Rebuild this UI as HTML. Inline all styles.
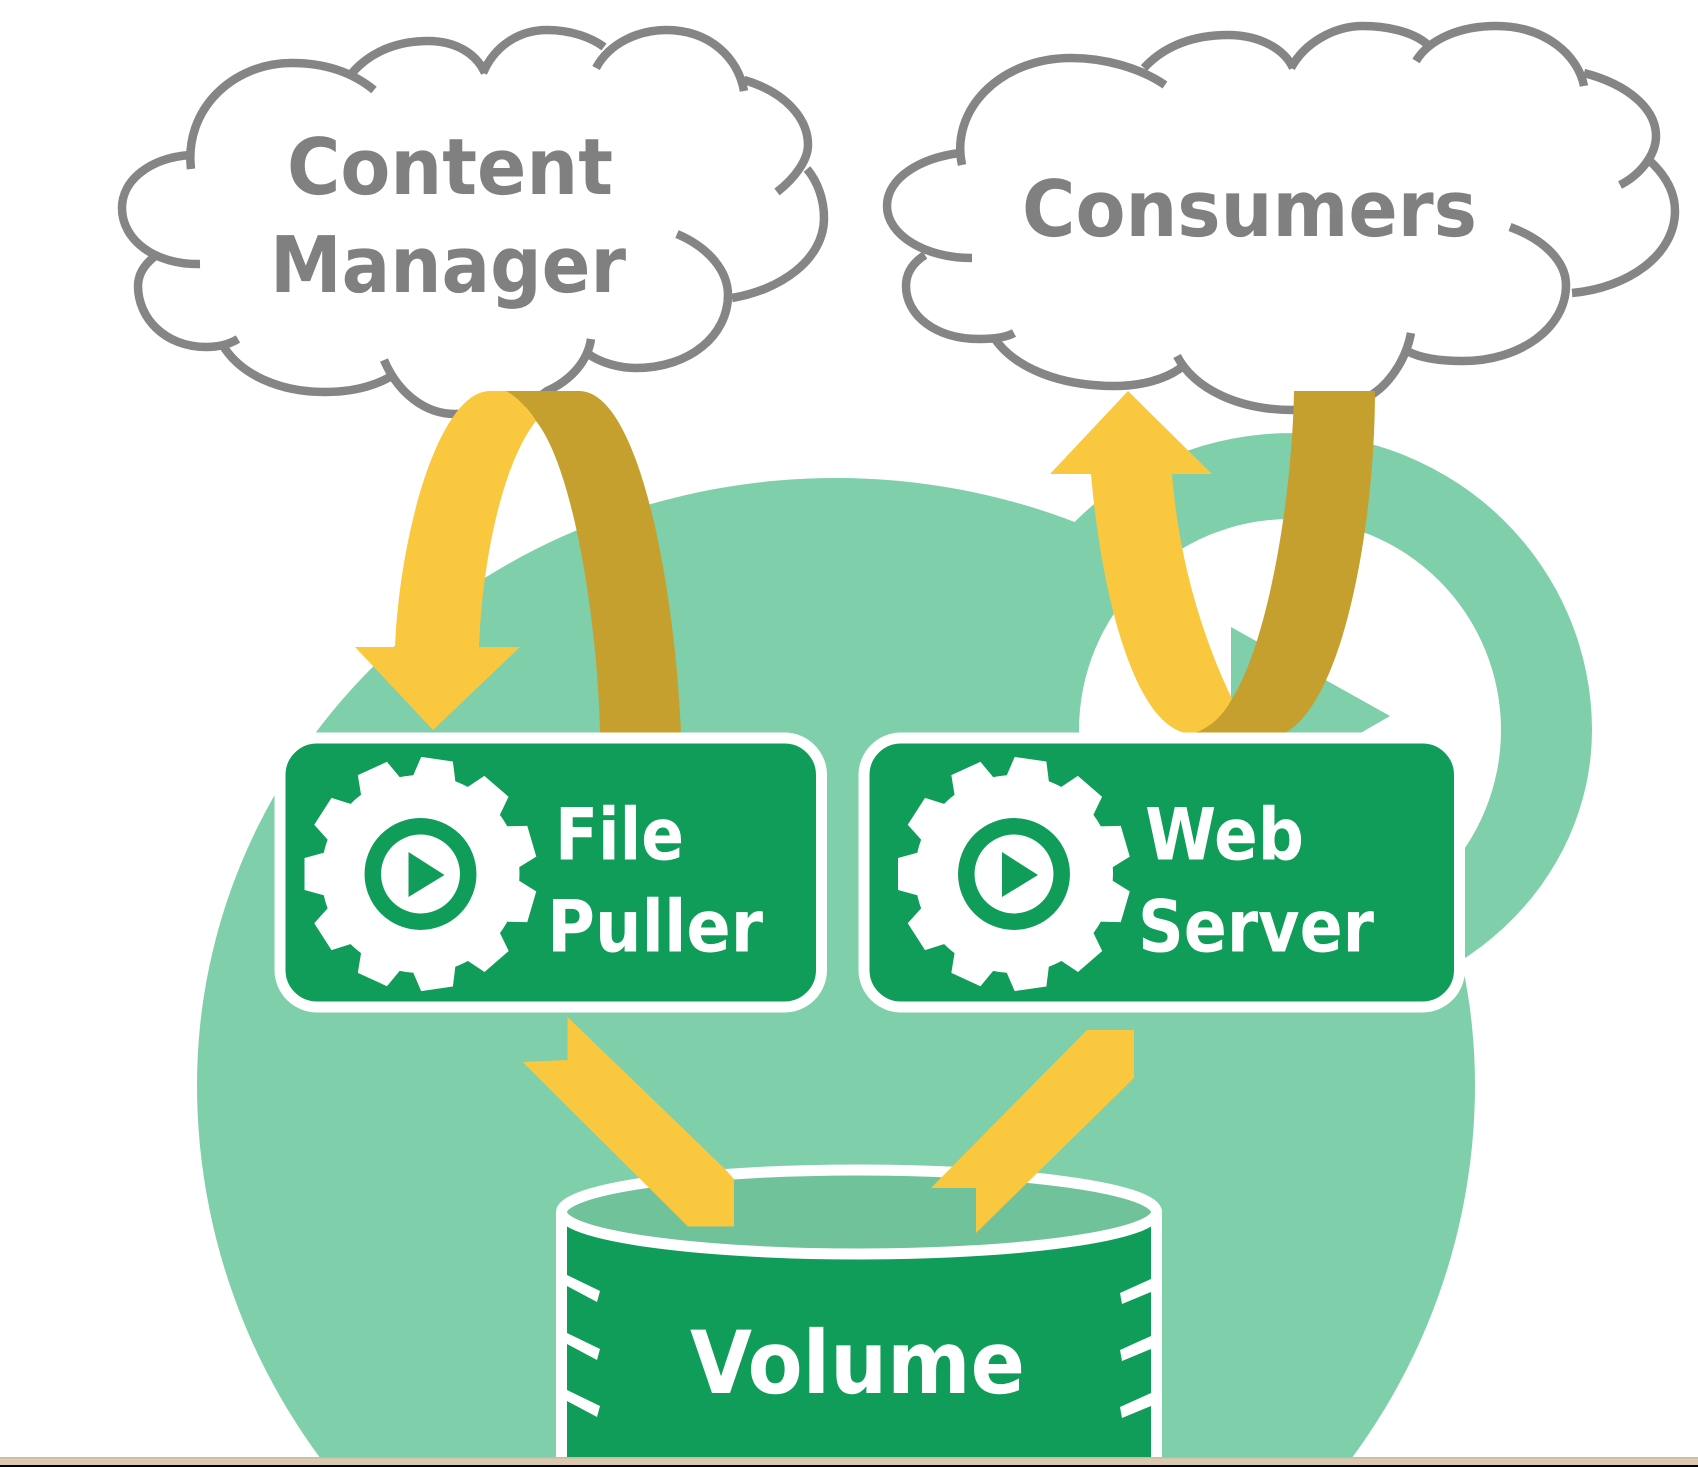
<!DOCTYPE html>
<html><head><meta charset="utf-8"><style>
html,body{margin:0;padding:0;background:#fff;width:1698px;height:1467px;overflow:hidden}
svg{display:block}
text{font-family:"DejaVu Sans","Liberation Sans",sans-serif;font-weight:bold;text-rendering:geometricPrecision}
</style></head><body>
<svg width="1698" height="1467" viewBox="0 0 1698 1467" xmlns="http://www.w3.org/2000/svg">
<defs>
<polygon id="t" points="-22,-94 -16,-116 16,-116 22,-94"/>
<g id="gear">
<circle r="99" fill="#fff"/>
<g fill="#fff">
<use href="#t" transform="rotate(270)"/><use href="#t" transform="rotate(302.7)"/><use href="#t" transform="rotate(335.5)"/><use href="#t" transform="rotate(8.2)"/><use href="#t" transform="rotate(40.9)"/><use href="#t" transform="rotate(73.6)"/><use href="#t" transform="rotate(106.4)"/><use href="#t" transform="rotate(139)"/><use href="#t" transform="rotate(171.8)"/><use href="#t" transform="rotate(204.5)"/><use href="#t" transform="rotate(237.3)"/>
</g>
<circle r="47.7" fill="#fff" stroke="#109d59" stroke-width="16.5"/>
<polygon points="-12,-22 -12,23 24,1" fill="#109d59"/>
</g>
</defs>

<rect width="1698" height="1467" fill="#fff"/>

<!-- ring -->
<path d="M988,730 A302,297 0 0 1 1592,730 A302,280 0 0 1 988,730Z" fill="#7fcfaa"/>
<!-- large circle -->
<path d="M197,1085 A639,607 0 0 1 1475,1085 A639,632 0 0 1 197,1085Z" fill="#7fcfaa"/>
<!-- hole -->
<circle cx="1290" cy="730" r="211" fill="#fff"/>
<!-- ring arrowhead -->
<polygon points="1231,627 1390,716 1231,808" fill="#7fcfaa"/>

<!-- clouds -->
<g fill="none" stroke="#858585" stroke-width="8.5">
<path d="M191,169 C184,110 232,63 292,63 C325,63 352,72 374,90"/>
<path d="M352,73 C372,50 400,41 428,41 C455,41 476,53 485,73"/>
<path d="M483,73 C495,45 520,30 547,30 C572,30 592,38 604,47"/>
<path d="M596,68 C610,42 640,30 666,30 C710,30 738,58 744,91"/>
<path d="M744,80 C785,92 808,118 808,145 C808,160 795,178 777,192"/>
<path d="M807,169 C818,182 824,200 824,218 C824,260 780,290 732,298"/>
<path d="M677,234 C710,248 728,272 728,295 C728,335 690,368 636,368 C620,368 600,363 587,353"/>
<path d="M591,339 C588,360 572,380 547,391 C530,405 490,414 455,414 C425,414 398,393 384,360"/>
<path d="M390,377 C372,387 350,392 325,392 C280,392 240,375 222,344"/>
<path d="M238,339 C228,345 218,347 206,347 C165,347 138,318 138,286 C138,275 144,265 154,257"/>
<path d="M200,264 C155,265 122,240 122,208 C122,180 150,158 190,155"/>

<path d="M962,165 C950,110 1000,58 1071,58 C1105,58 1140,68 1165,85"/>
<path d="M1144,68 C1165,45 1195,35 1228,35 C1258,35 1284,48 1293,68"/>
<path d="M1291,68 C1305,42 1335,26 1363,26 C1390,26 1415,33 1428,45"/>
<path d="M1416,61 C1430,38 1462,26 1496,26 C1545,26 1578,55 1584,86"/>
<path d="M1584,73 C1630,85 1656,110 1656,136 C1656,155 1640,175 1620,185"/>
<path d="M1650,161 C1665,175 1675,192 1675,211 C1675,255 1628,288 1572,293"/>
<path d="M1510,227 C1545,240 1566,262 1566,285 C1566,328 1520,361 1463,361 C1440,361 1420,358 1407,351"/>
<path d="M1411,333 C1405,365 1385,385 1377,391 C1360,405 1325,410 1293,410 C1240,410 1195,390 1177,356"/>
<path d="M1182,367 C1165,380 1140,386 1114,386 C1060,386 1015,368 995,339"/>
<path d="M1014,333 C1005,338 992,339 979,339 C935,339 906,315 906,286 C906,272 914,262 925,255"/>
<path d="M972,258 C925,258 887,235 887,206 C887,178 920,158 960,153"/>
</g>
<g fill="#808080" font-size="78">
<text x="287" y="194" textLength="326" lengthAdjust="spacingAndGlyphs">Content</text>
<text x="270" y="292" textLength="356" lengthAdjust="spacingAndGlyphs">Manager</text>
<text x="1022" y="236" textLength="455" lengthAdjust="spacingAndGlyphs">Consumers</text>
</g>

<!-- curved arrow left -->
<path d="M506,391 L579,391 C640,391 675,590 681,733 L600,733 C598,630 575,470 536,421 C528,408 518,398 506,391Z" fill="#c5a02f"/>
<path d="M490,391 L506,391 C518,398 528,408 536,421 C505,460 483,550 479,647 L520,647 L433,730 L355,647 L395,647 C400,530 440,391 490,391Z" fill="#fac83f"/>

<!-- curved arrow right -->
<path d="M1128,391 L1212,474 L1172,474 C1178,550 1198,630 1235,705 L1235,733 L1185,733 C1130,720 1100,580 1091,474 L1050,474 Z" fill="#fac83f"/>
<path d="M1294,391 L1375,391 C1375,520 1345,700 1285,733 L1195,733 C1215,725 1225,712 1233,697 C1268,640 1292,500 1294,391Z" fill="#c5a02f"/>

<!-- boxes -->
<rect x="280" y="738" width="541.5" height="269" rx="37" fill="#109d59" stroke="#fff" stroke-width="11"/>
<rect x="864" y="738" width="595.5" height="269" rx="37" fill="#109d59" stroke="#fff" stroke-width="11"/>
<use href="#gear" transform="translate(420.5,874)"/>
<use href="#gear" transform="translate(1014,874)"/>
<g fill="#fff" font-size="72">
<text x="555" y="859.5" textLength="129" lengthAdjust="spacingAndGlyphs">File</text>
<text x="547" y="951.5" textLength="216" lengthAdjust="spacingAndGlyphs">Puller</text>
<text x="1145" y="859.5" textLength="159" lengthAdjust="spacingAndGlyphs">Web</text>
<text x="1138" y="951.5" textLength="236" lengthAdjust="spacingAndGlyphs">Server</text>
</g>

<!-- volume -->
<rect x="556" y="1212" width="606" height="250" fill="#fff"/>
<rect x="567" y="1212" width="584" height="250" fill="#109d59"/>
<ellipse cx="859" cy="1212" rx="297.5" ry="42" fill="#70c29b" stroke="#fff" stroke-width="11"/>
<g fill="#fff">
<polygon points="567,1275 600,1291 597,1302 567,1286"/>
<polygon points="567,1333 600,1349 597,1360 567,1344"/>
<polygon points="567,1390 600,1406 597,1417 567,1401"/>
<polygon points="1151,1279 1120,1293 1122,1304 1151,1292"/>
<polygon points="1151,1336 1120,1350 1122,1361 1151,1349"/>
<polygon points="1151,1393 1120,1407 1122,1418 1151,1406"/>
</g>
<text x="690" y="1393" font-size="87" fill="#fff" textLength="335" lengthAdjust="spacingAndGlyphs">Volume</text>

<!-- straight arrows -->
<polygon points="567.5,1017 725,1169 734,1179 734,1226.5 688,1226.5 522.5,1062 567.5,1060" fill="#fac83f"/>
<polygon points="1087,1030 1134,1030 1134,1078 976,1233 976,1188 931,1188" fill="#fac83f"/>

<!-- bottom bar -->
<rect x="0" y="1457" width="1698" height="8" fill="#dccab0"/>
<rect x="0" y="1457" width="1698" height="1.5" fill="#c9b9a5"/>
<rect x="0" y="1465" width="1698" height="2" fill="#000"/>
</svg>
</body></html>
